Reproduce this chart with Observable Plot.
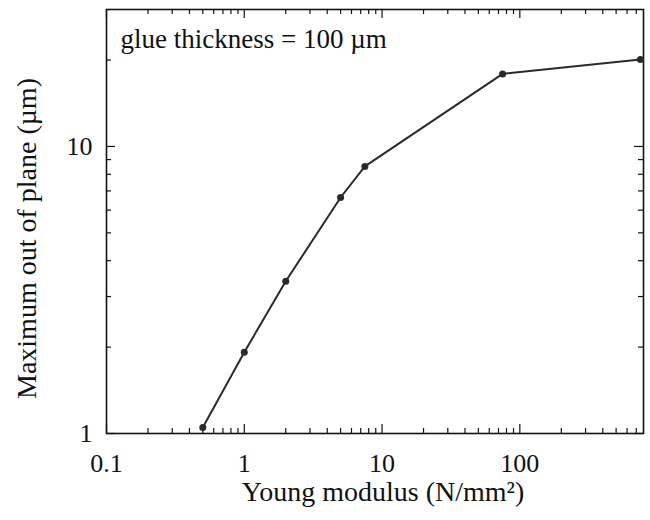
<!DOCTYPE html>
<html>
<head>
<meta charset="utf-8">
<script src="https://cdn.jsdelivr.net/npm/d3@7"></script>
<script src="https://cdn.jsdelivr.net/npm/@observablehq/plot@0.6"></script>
<style>
  html, body { margin: 0; padding: 0; background: #fff; }
</style>
</head>
<body>
<div id="chart"></div>
<script>
// Data
const modulus = [0.5, 1, 2, 5, 7.5, 75, 750];          // Young modulus (N/mm²)
const outOfPlane = [1.05, 1.92, 3.39, 6.64, 8.52, 17.9, 20.1]; // Maximum out of plane (µm)

// Tick values
const xMajorTicks = [0.1, 1, 10, 100];
const xMinorTicks = [0.2, 0.3, 0.4, 0.5, 0.6, 0.7, 0.8, 0.9,
                     2, 3, 4, 5, 6, 7, 8, 9,
                     20, 30, 40, 50, 60, 70, 80, 90,
                     200, 300, 400, 500, 600, 700];
const yMajorTicks = [1, 10];
const yMinorTicks = [2, 3, 4, 5, 6, 7, 8, 9, 20];

const xLabel = "Young modulus (N/mm²)";
const yLabel = "Maximum out of plane (µm)";
const note = "glue thickness = 100 µm";

const points = modulus.map((m, i) => ({modulus: m, value: outOfPlane[i]}));

const W = 650, H = 520;
const mL = 106, mR = 7, mT = 9, mB = 87;
const innerH = H - mT - mB;
const innerW = W - mL - mR;
const font = "Liberation Serif";
const majorLen = 9, minorLen = 5;

const chart = Plot.plot({
  width: W,
  height: H,
  marginLeft: mL,
  marginRight: mR,
  marginTop: mT,
  marginBottom: mB,
  style: "font-family: 'Liberation Serif', serif; font-size: 26px; color: #111; background: #fff;",
  x: {type: "log", domain: [0.1, 790]},
  y: {type: "log", domain: [1, 30]},
  marks: [
    // inward ticks, bottom & top
    Plot.tickX(xMajorTicks, {x: d => d, insetTop: innerH - majorLen, stroke: "#111", strokeWidth: 1.2}),
    Plot.tickX(xMinorTicks, {x: d => d, insetTop: innerH - minorLen, stroke: "#111", strokeWidth: 1.2}),
    Plot.tickX(xMajorTicks, {x: d => d, insetBottom: innerH - majorLen, stroke: "#111", strokeWidth: 1.2}),
    Plot.tickX(xMinorTicks, {x: d => d, insetBottom: innerH - minorLen, stroke: "#111", strokeWidth: 1.2}),
    // inward ticks, left & right
    Plot.tickY(yMajorTicks, {y: d => d, insetRight: innerW - majorLen, stroke: "#111", strokeWidth: 1.2}),
    Plot.tickY(yMinorTicks, {y: d => d, insetRight: innerW - minorLen, stroke: "#111", strokeWidth: 1.2}),
    Plot.tickY(yMajorTicks, {y: d => d, insetLeft: innerW - majorLen, stroke: "#111", strokeWidth: 1.2}),
    Plot.tickY(yMinorTicks, {y: d => d, insetLeft: innerW - minorLen, stroke: "#111", strokeWidth: 1.2}),
    Plot.frame({stroke: "#111", strokeWidth: 1.6}),
    // tick labels
    Plot.axisX({ticks: xMajorTicks, tickSize: 0, tickPadding: 20, tickFormat: d => String(d), label: null, fontSize: 26, fontFamily: font}),
    Plot.axisY({ticks: yMajorTicks, tickSize: 0, tickPadding: 14, tickFormat: d => String(d), label: null, fontSize: 26, fontFamily: font}),
    // axis titles
    Plot.text([xLabel], {frameAnchor: "bottom", dx: 8, dy: 59, lineAnchor: "middle", fontSize: 28, fontFamily: font, fill: "#111"}),
    Plot.text([yLabel], {frameAnchor: "left", dx: -79, dy: 17, rotate: -90, lineAnchor: "middle", textAnchor: "middle", fontSize: 28, fontFamily: font, fill: "#111"}),
    // annotation
    Plot.text([note], {frameAnchor: "top-left", dx: 14, dy: 19, lineAnchor: "top", textAnchor: "start", fontSize: 27, fontFamily: font, fill: "#111"}),
    // data
    Plot.line(points, {x: "modulus", y: "value", stroke: "#2a2a2a", strokeWidth: 2}),
    Plot.dot(points, {x: "modulus", y: "value", r: 3.5, fill: "#2a2a2a", stroke: "none"})
  ]
});

document.getElementById("chart").appendChild(chart);
</script>
</body>
</html>
